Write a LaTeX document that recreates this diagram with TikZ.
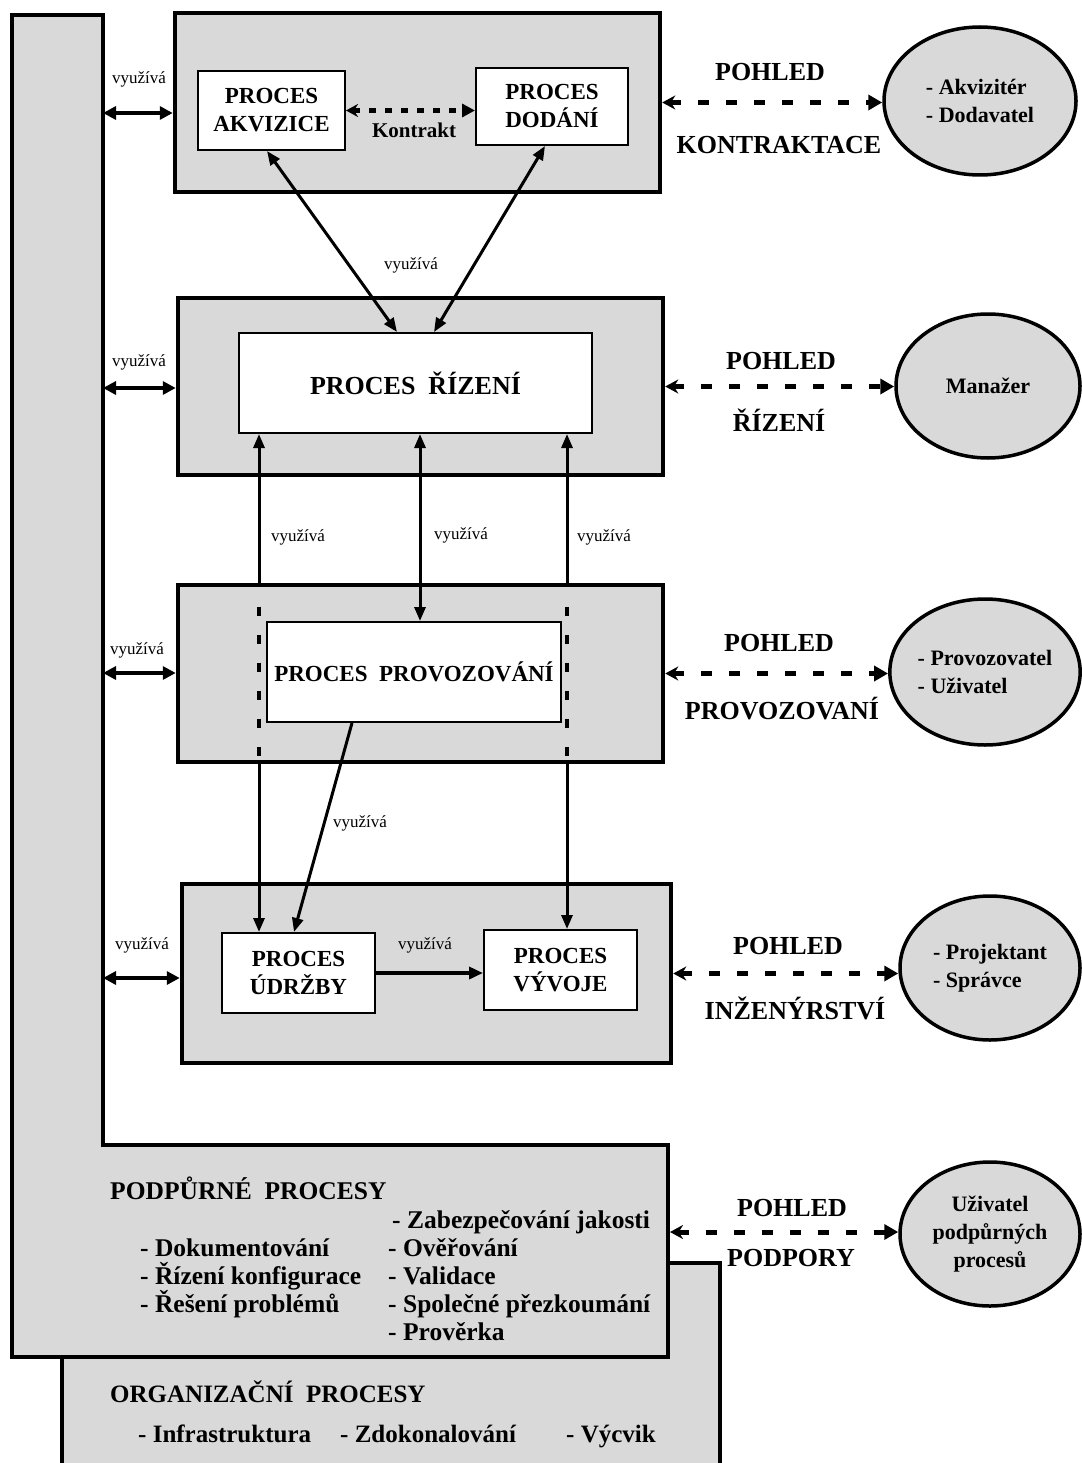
\documentclass[tikz,border=0pt]{standalone}
\usepackage{fontspec}
\setmainfont{Liberation Serif}
\usetikzlibrary{arrows.meta,shapes.geometric,calc}
\definecolor{pattgray}{gray}{0.85}
\begin{document}
\begin{tikzpicture}[x=1pt,y=-1pt,
  panel/.style={draw, line width=4.5pt, fill=pattgray},
  outerbox/.style={draw, line width=4.5pt, fill=pattgray, inner sep=0pt},
  procbox/.style={draw, line width=2pt, fill=white, inner sep=0pt, align=center, font=\fontsize{23}{28}\selectfont\bfseries},
  role/.style={ellipse, draw, line width=3.5pt, fill=pattgray, inner sep=0pt, font=\fontsize{22}{28}\selectfont\bfseries},
  uses/.style={inner sep=0pt, font=\fontsize{17}{19}\selectfont},
  viewtxt/.style={inner sep=0pt, font=\fontsize{26}{28}\selectfont\bfseries},
  suptxt/.style={inner sep=0pt, anchor=base west, font=\fontsize{25.5}{27}\selectfont\bfseries},
  orgtxt/.style={inner sep=0pt, anchor=base west, font=\fontsize{25}{27}\selectfont\bfseries},
  usesarrow/.style={line width=4.5pt, {Triangle[length=13pt,width=13pt]}-{Triangle[length=13pt,width=13pt]}},
  link/.style={line width=3pt, {Triangle[length=14pt,width=11pt]}-{Triangle[length=14pt,width=11pt]}},
  linkone/.style={line width=3pt, -{Triangle[length=14pt,width=11pt]}},
  linkstart/.style={line width=3pt, {Triangle[length=14pt,width=11pt]}-},
  dashseg/.style={line width=4pt, dash pattern=on 9pt off 19pt},
  viewarrow/.style={line width=5pt, dash pattern=on 11pt off 17pt, {Stealth[length=13pt,width=14pt]}-{Triangle[length=14pt,width=15pt]}},
  contract/.style={line width=4.5pt, dash pattern=on 7pt off 9pt, {Stealth[length=12pt,width=13pt]}-{Triangle[length=13pt,width=13pt]}}
]
\useasboundingbox (0,0) rectangle (1081,1463);
% organisational processes (behind)
\draw[panel] (62,1263) rectangle (720,1480);
% supporting processes (L-shape)
\draw[panel] (12,15) -- (103,15) -- (103,1145) -- (668,1145) -- (668,1357) -- (12,1357) -- cycle;
\coordinate (supE) at (670,1232);
\coordinate (l1) at (103,113);
\coordinate (l2) at (103,388);
\coordinate (l3) at (103,673);
\coordinate (l4) at (103,978);
\coordinate (xl) at (259,0);
\coordinate (xm) at (420,0);
\coordinate (xr) at (567,0);

% outer boxes
\node[outerbox, minimum width=485pt, minimum height=179pt] (b1) at (417.5,102.5) {};
\node[outerbox, minimum width=485pt, minimum height=177pt] (b2) at (420.5,386.5) {};
\node[outerbox, minimum width=485pt, minimum height=177pt] (b3) at (420.5,673.5) {};
\node[outerbox, minimum width=489pt, minimum height=179pt] (b4) at (426.5,973.5) {};

% process boxes
\node[procbox, minimum width=147pt, minimum height=79pt] (akv) at (271.5,110.5) {PROCES\\AKVIZICE};
\node[procbox, minimum width=152pt, minimum height=77pt] (dod) at (552,106.5) {PROCES\\DODÁNÍ};
\node[procbox, minimum width=353pt, minimum height=100pt, font=\fontsize{26}{28}\selectfont\bfseries] (riz) at (415.5,383) {PROCES~~ŘÍZENÍ};
\node[procbox, minimum width=294pt, minimum height=100pt] (prov) at (414,672) {PROCES~~PROVOZOVÁNÍ};
\node[procbox, minimum width=153pt, minimum height=80pt] (udr) at (298.5,973) {PROCES\\ÚDRŽBY};
\node[procbox, minimum width=153pt, minimum height=80pt] (vyv) at (560.5,970) {PROCES\\VÝVOJE};

% role ellipses
\node[role, minimum width=192pt, minimum height=148pt, align=left] (e1) at (980,101) {- Akvizitér\\- Dodavatel};
\node[role, minimum width=184pt, minimum height=144pt] (e2) at (988,386) {Manažer};
\node[role, minimum width=188pt, minimum height=146pt, align=left] (e3) at (985,672) {- Provozovatel\\- Uživatel};
\node[role, minimum width=180pt, minimum height=144pt, align=left] (e4) at (990,968) {- Projektant\\- Správce};
\node[role, minimum width=180pt, minimum height=144pt, align=center] (e5) at (990,1234) {Uživatel\\podpůrných\\procesů};

% view arrows and labels
\draw[viewarrow] (b1.east) -- (b1.east -| e1.west);
\draw[viewarrow] (b2.east) -- (b2.east -| e2.west);
\draw[viewarrow] (b3.east) -- (b3.east -| e3.west);
\draw[viewarrow] (b4.east) -- (b4.east -| e4.west);
\draw[viewarrow] (supE) -- (supE -| e5.west);
\node[viewtxt] (p1a) at (770,72) {POHLED};
\node[viewtxt] (p1b) at (779,145) {KONTRAKTACE};
\node[viewtxt] (p2a) at (781,361) {POHLED};
\node[viewtxt] (p2b) at (779,420) {ŘÍZENÍ};
\node[viewtxt] (p3a) at (779,643) {POHLED};
\node[viewtxt] (p3b) at (782,709) {PROVOZOVANÍ};
\node[viewtxt] (p4a) at (788,946) {POHLED};
\node[viewtxt] (p4b) at (795,1008) {INŽENÝRSTVÍ};
\node[viewtxt] (p5a) at (792,1208) {POHLED};
\node[viewtxt] (p5b) at (791,1258) {PODPORY};

% uses arrows from the supporting bar
\draw[usesarrow] (l1) -- (l1 -| b1.west);
\draw[usesarrow] (l2) -- (l2 -| b2.west);
\draw[usesarrow] (l3) -- (l3 -| b3.west);
\draw[usesarrow] (l4) -- (l4 -| b4.west);
\node[uses] (u1) at (139,79) {využívá};
\node[uses] (u2) at (139,362) {využívá};
\node[uses] (u3) at (137,650) {využívá};
\node[uses] (u4) at (142,945) {využívá};

% contract
\draw[contract] (akv.east) -- (akv.east -| dod.west);
\node[inner sep=0pt, font=\fontsize{21}{23}\selectfont\bfseries] (kon) at (414,130) {Kontrakt};

% management links
\draw[link] ($(riz.north)+(-18.5,0)$) -- ($(akv.south)+(-4.5,0)$);
\draw[link] ($(riz.north)+(18.5,0)$) -- ($(dod.south)+(-7,0)$);
\node[uses] (u5) at (411,265) {využívá};

% vertical links
\draw[linkstart] (riz.south -| xl) -- (b3.north -| xl);
\draw[dashseg] ($(b3.north -| xl)+(0,24)$) -- ($(b3.south -| xl)+(0,-4)$);
\draw[linkone] (b3.south -| xl) -- (udr.north -| xl);
\draw[linkstart] (riz.south -| xr) -- (b3.north -| xr);
\draw[dashseg] ($(b3.north -| xr)+(0,24)$) -- ($(b3.south -| xr)+(0,-4)$);
\draw[linkone] (b3.south -| xr) -- (vyv.north -| xr);
\draw[link] (riz.south -| xm) -- (prov.north -| xm);
\node[uses] (u6) at (298,537) {využívá};
\node[uses] (u7) at (461,535) {využívá};
\node[uses] (u8) at (604,537) {využívá};

% operation -> maintenance, maintenance -> development
\draw[linkone] ($(prov.south)+(-62,0)$) -- ($(udr.north)+(-4.5,0)$);
\node[uses] (u9) at (360,823) {využívá};
\draw[line width=4.5pt, -{Triangle[length=14pt,width=12pt]}] (udr.east) -- (udr.east -| vyv.west);
\node[uses] (u10) at (425,945) {využívá};

% supporting processes text
\node[suptxt] (s0) at (110,1199) {PODPŮRNÉ~~PROCESY};
\node[suptxt] (s1) at (392,1228) {- Zabezpečování jakosti};
\node[suptxt] (s2) at (140,1256) {- Dokumentování};
\node[suptxt] (s3) at (388,1256) {- Ověřování};
\node[suptxt] (s4) at (140,1284) {- Řízení konfigurace};
\node[suptxt] (s5) at (388,1284) {- Validace};
\node[suptxt] (s6) at (140,1312) {- Řešení problémů};
\node[suptxt] (s7) at (388,1312) {- Společné přezkoumání};
\node[suptxt] (s8) at (388,1340) {- Prověrka};

% organisational processes text
\node[orgtxt] (o0) at (110,1402) {ORGANIZAČNÍ~~PROCESY};
\node[orgtxt] (o1) at (138,1442) {- Infrastruktura};
\node[orgtxt] (o2) at (340,1442) {- Zdokonalování};
\node[orgtxt] (o3) at (566,1442) {- Výcvik};
\end{tikzpicture}
\end{document}
